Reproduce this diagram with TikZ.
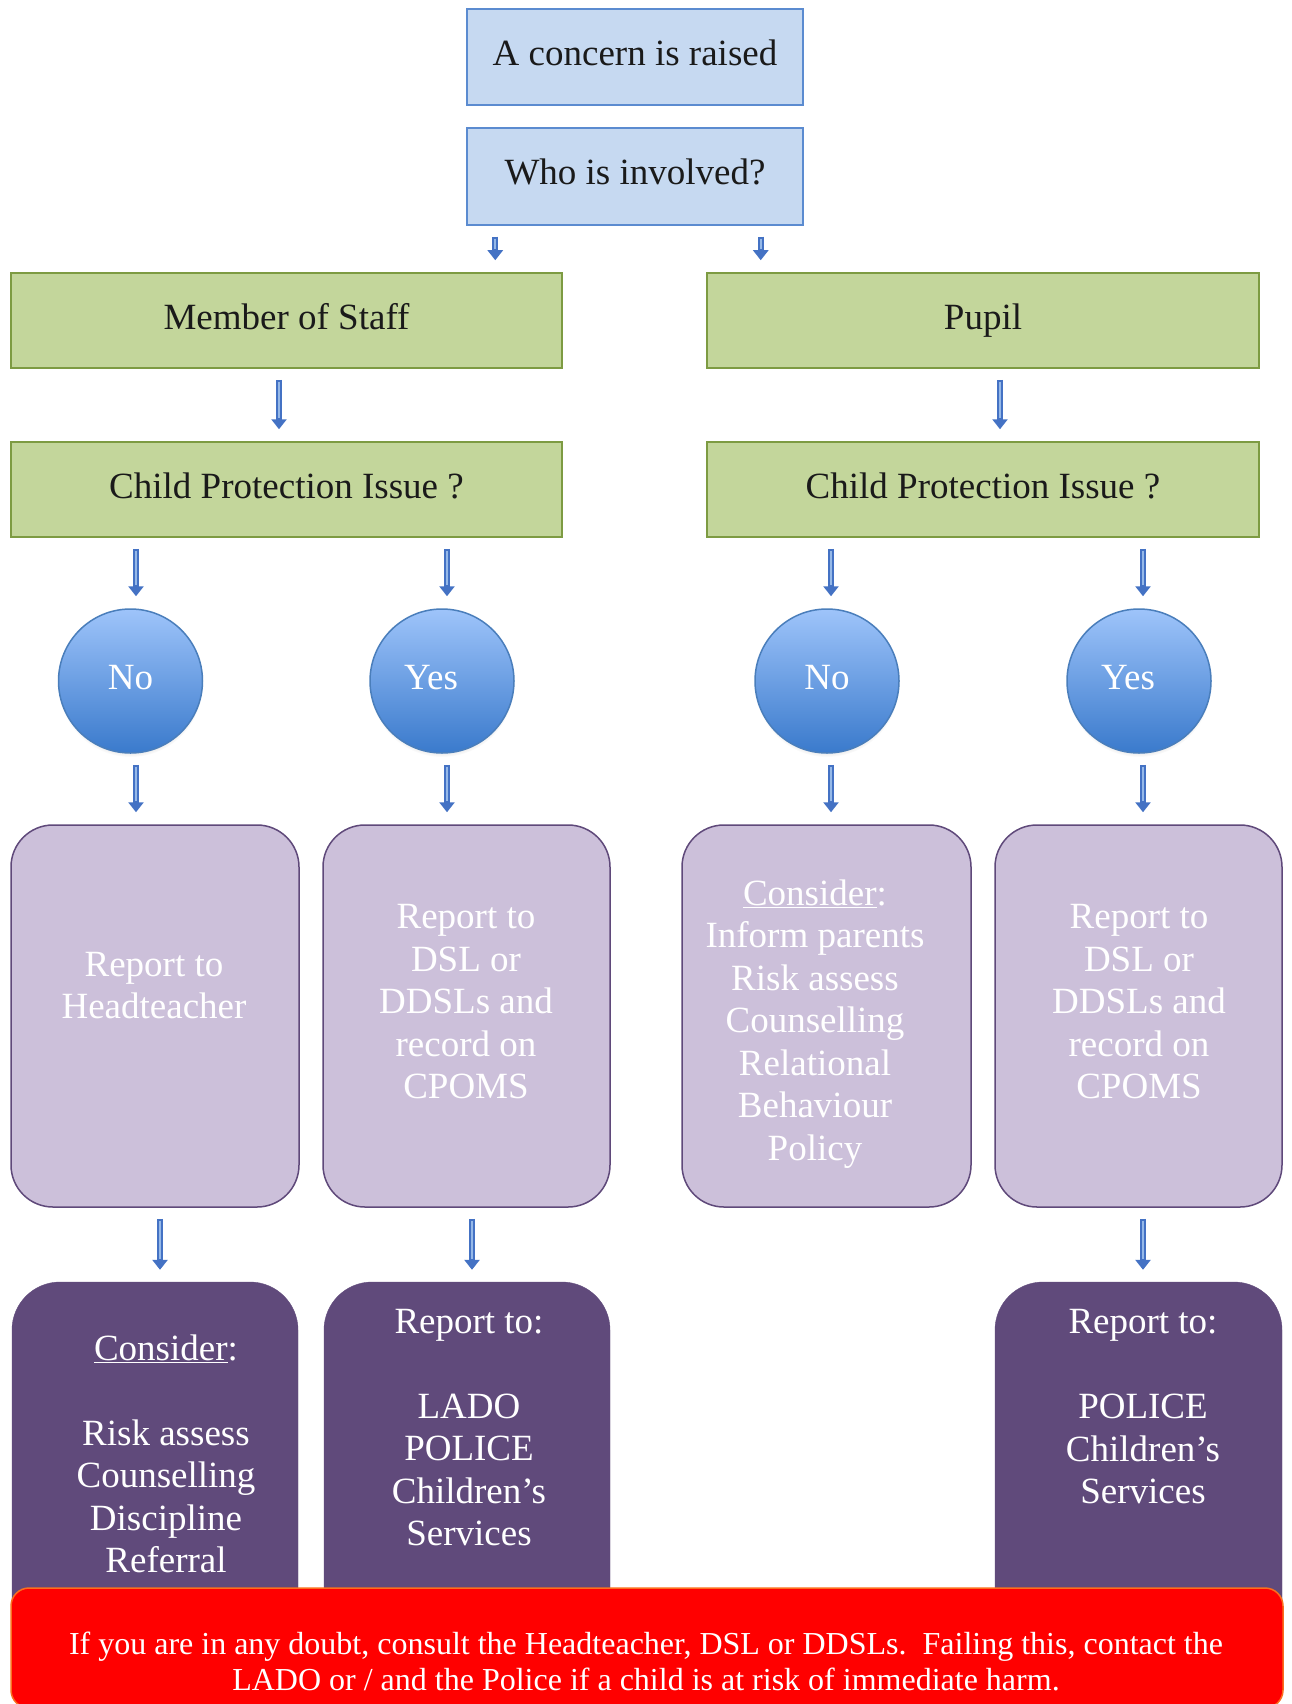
\documentclass[tikz,border=0pt]{standalone}
\usepackage{fontspec}
\setmainfont{Liberation Serif}
\usetikzlibrary{arrows.meta,shadows,shadings,fadings}
\definecolor{bluefill}{RGB}{198,217,241}
\definecolor{blueline}{RGB}{91,139,208}
\definecolor{greenfill}{RGB}{195,214,155}
\definecolor{greenline}{RGB}{125,155,66}
\definecolor{lpfill}{RGB}{204,192,218}
\definecolor{lpline}{RGB}{95,73,122}
\definecolor{dpfill}{RGB}{96,74,123}
\definecolor{circtop}{RGB}{158,196,250}
\definecolor{circbot}{RGB}{58,122,204}
\definecolor{circline}{RGB}{74,126,187}
\definecolor{arrline}{RGB}{68,114,196}
\definecolor{arrlight}{RGB}{150,185,232}
\definecolor{redfill}{RGB}{255,0,0}
\definecolor{redline}{RGB}{250,110,30}
\definecolor{txt}{RGB}{26,26,26}
\begin{document}
\begin{tikzpicture}[x=1pt,y=-1pt,
  big/.style={font=\fontsize{37}{42.5}\selectfont},
  bluebox/.style={big, draw=blueline, fill=bluefill, line width=1.5pt, minimum width=336pt, minimum height=96pt, text=txt, inner sep=0pt},
  greenbox/.style={big, draw=greenline, fill=greenfill, line width=1.5pt, minimum width=551pt, minimum height=95pt, text=txt, inner sep=0pt},
  ball/.style={big, circle, draw=circline, line width=1.5pt, top color=circtop, bottom color=circbot, minimum size=144pt, inner sep=0pt, text=white,
    circular drop shadow={shadow scale=1.0, shadow xshift=0pt, shadow yshift=-4pt, opacity=0.35}},
  litebox/.style={draw=lpline, fill=lpfill, line width=1.5pt, rounded corners=42pt, minimum width=287pt, minimum height=382pt, inner sep=0pt},
  darkbox/.style={draw=dpfill, fill=dpfill, rounded corners=48pt, minimum width=286pt, minimum height=378pt, inner sep=0pt},
  boxtext/.style={big, text=white, align=center, inner sep=0pt},
  flow/.style={line width=6pt, draw=arrline, -{Triangle[width=15pt,length=10pt]}, shorten <=11pt, shorten >=12pt,
    postaction={draw=arrlight, line width=2pt, -, shorten <=13pt, shorten >=23pt}},
]
\useasboundingbox[fill=white] (0,0) rectangle (1291,1704);

% top boxes
\node[bluebox] (concern) at (635,57) {\strut A concern is raised};
\node[bluebox, minimum height=97pt] (who) at (635,176.5) {\strut Who is involved?};
\node[greenbox] (staff) at (286.5,320.5) {\strut Member of Staff};
\node[greenbox, minimum width=552pt] (pupil) at (983,320.5) {\strut Pupil};
\node[greenbox] (cp1) at (286.5,489.5) {\strut Child Protection Issue ?};
\node[greenbox, minimum width=552pt] (cp2) at (983,489.5) {\strut Child Protection Issue ?};

% circles
\node[ball] (no1) at (130.5,681) {\strut No};
\node[ball] (yes1) at (442,681) {\strut Yes\kern22pt\strut};
\node[ball] (no2) at (827,681) {\strut No};
\node[ball] (yes2) at (1139,681) {\strut Yes\kern22pt\strut};

% light purple boxes
\node[litebox, minimum width=288pt] (rep1) at (155,1016) {};
\node[litebox] (rep2) at (466.5,1016) {};
\node[litebox, minimum width=289pt] (cons) at (826.5,1016) {};
\node[litebox] (rep4) at (1138.5,1016) {};
\node[boxtext] (rep1t) at (154,989) {\strut Report to\\Headteacher\strut};
\node[boxtext] (rep2t) at (466,1005) {\strut Report to\\DSL or\\DDSLs and\\record on\\CPOMS\strut};
\node[boxtext] (const) at (815,1024) {\strut\underline{Consider}:\\Inform parents\\Risk assess\\Counselling\\Relational\\Behaviour\\Policy\strut};
\node[boxtext] (rep4t) at (1139,1005) {\strut Report to\\DSL or\\DDSLs and\\record on\\CPOMS\strut};

% dark purple boxes
\node[darkbox] (dk1) at (155,1471) {};
\node[darkbox] (dk2) at (467,1471) {};
\node[darkbox, minimum width=287pt] (dk3) at (1138.5,1471) {};
\node[boxtext] (dk1t) at (166,1458) {\strut\underline{Consider}:\\\strut\\Risk assess\\Counselling\\Discipline\\Referral\strut};
\node[boxtext] (dk2t) at (469,1431) {\strut Report to:\\\strut\\LADO\\POLICE\\Children’s\\Services\strut};
\node[boxtext] (dk3t) at (1143,1410) {\strut Report to:\\\strut\\POLICE\\Children’s\\Services\strut};

% warning box
\node[draw=redline, fill=redfill, line width=1.5pt, rounded corners=18pt, minimum width=1272pt, minimum height=120pt, inner sep=0pt] (warn) at (647,1648) {};
\node[font=\fontsize{32}{36.7}\selectfont, text=white, align=center, inner sep=0pt] (warnt) at (646,1665)
  {\strut If you are in any doubt, consult the Headteacher, DSL or DDSLs.\ \ Failing this, contact the\\LADO or / and the Police if a child is at risk of immediate harm.\strut};

% connectors
\draw[flow] ([xshift=29pt]who.south west) -- ([xshift=29pt]who.south west |- staff.north);
\draw[flow] ([xshift=-43pt]who.south east) -- ([xshift=-43pt]who.south east |- pupil.north);
\draw[flow] ([xshift=-7.5pt]staff.south) -- ([xshift=-7.5pt]staff.south |- cp1.north);
\draw[flow] ([xshift=17pt]pupil.south) -- ([xshift=17pt]pupil.south |- cp2.north);

\draw[flow] ([xshift=5.5pt]no1.north |- cp1.south) -- ([xshift=5.5pt]no1.north);
\draw[flow] ([xshift=5pt]yes1.north |- cp1.south) -- ([xshift=5pt]yes1.north);
\draw[flow] ([xshift=4pt]no2.north |- cp2.south) -- ([xshift=4pt]no2.north);
\draw[flow] ([xshift=4pt]yes2.north |- cp2.south) -- ([xshift=4pt]yes2.north);

\draw[flow] ([xshift=5.5pt]no1.south) -- ([xshift=5.5pt]no1.south |- rep1.north);
\draw[flow] ([xshift=5pt]yes1.south) -- ([xshift=5pt]yes1.south |- rep2.north);
\draw[flow] ([xshift=4pt]no2.south) -- ([xshift=4pt]no2.south |- cons.north);
\draw[flow] ([xshift=4pt]yes2.south) -- ([xshift=4pt]yes2.south |- rep4.north);

\draw[flow] ([xshift=5pt]rep1.south) -- ([xshift=5pt]rep1.south |- dk1.north);
\draw[flow] ([xshift=5.5pt]rep2.south) -- ([xshift=5.5pt]rep2.south |- dk2.north);
\draw[flow] ([xshift=4.5pt]rep4.south) -- ([xshift=4.5pt]rep4.south |- dk3.north);
\end{tikzpicture}
\end{document}
